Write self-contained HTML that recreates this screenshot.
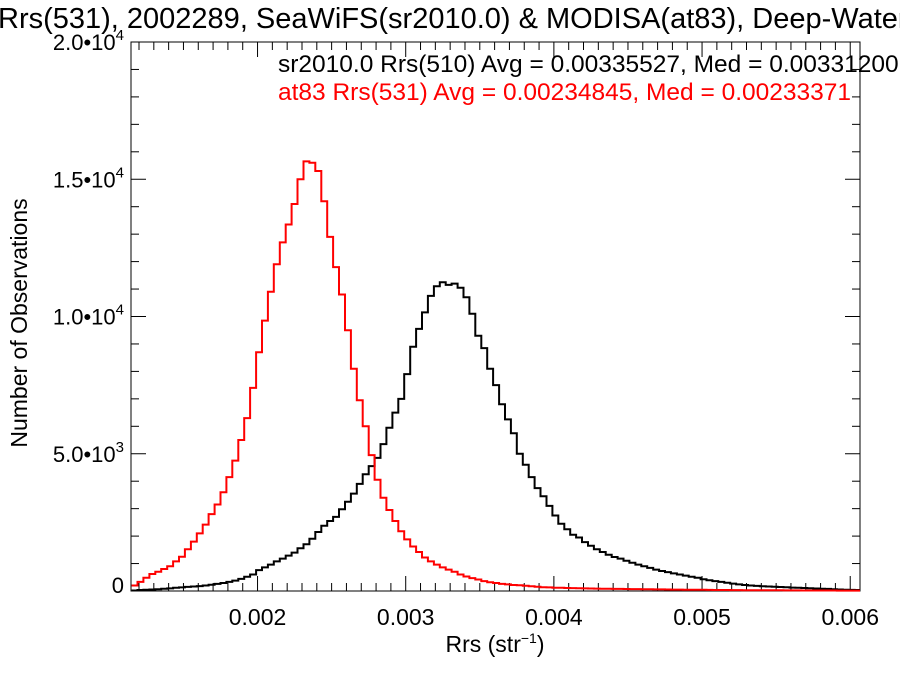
<!DOCTYPE html>
<html><head><meta charset="utf-8"><style>
body{margin:0;background:#fff;}
svg{display:block;font-family:"Liberation Sans",Arial,sans-serif;}
</style></head><body>
<svg id="chart" width="900" height="675" viewBox="0 0 900 675" xmlns="http://www.w3.org/2000/svg">
<rect width="900" height="675" fill="#fff"/>
<text x="-2" y="28" font-size="29">Rrs(531), 2002289, SeaWiFS(sr2010.0) &amp; MODISA(at83), Deep-Water</text>
<text x="278" y="72" font-size="24.5">sr2010.0 Rrs(510) Avg = 0.00335527, Med = 0.00331200</text>
<text x="278" y="100" font-size="24.5" fill="#ff0000">at83 Rrs(531) Avg = 0.00234845, Med = 0.00233371</text>
<g id="axes"></g>
<g id="series"></g>
<text x="495" y="652" font-size="23" text-anchor="middle">Rrs (str<tspan font-size="14" dy="-9">−1</tspan><tspan dy="9">)</tspan></text>
<text transform="translate(27,323) rotate(-90)" font-size="23" text-anchor="middle">Number of Observations</text>
</svg>
<script>
const binStart = 0.00115;
const binWidth = 0.00004;
const redCounts = [200,330,480,620,700,800,900,1080,1250,1520,1800,2100,2420,2800,3150,3600,4150,4750,5500,6300,7400,8700,9850,10900,11900,12700,13350,14100,15000,15650,15600,15300,14200,12900,11800,10800,9500,8100,6950,6000,4950,4050,3400,2950,2550,2180,1880,1620,1420,1220,1080,960,860,780,700,600,530,470,420,360,320,290,260,240,220,210,190,170,155,140,130,120,115,110,105,100,95,90,88,85,80,78,75,72,70,68,65,62,60,58,55,52,50,48,46,44,42,40,38,36,35,34,32,30,29,28,27,26,25,24,23,22,21,20,20,19,18,18,17,16,16,15,15];
const blackCounts = [20,35,45,55,65,80,95,115,130,150,165,180,200,230,260,290,330,380,440,520,600,760,860,960,1080,1180,1290,1400,1560,1700,1900,2150,2380,2550,2700,2980,3250,3550,3900,4250,4550,4850,5350,5950,6500,7000,7900,8900,9550,10150,10750,11100,11250,11150,11200,11050,10700,10100,9300,8850,8100,7500,6800,6250,5750,5000,4600,4150,3750,3450,3100,2750,2450,2250,2050,1950,1780,1650,1520,1420,1320,1240,1180,1100,1030,960,900,840,780,730,690,640,600,560,520,480,430,390,360,330,300,270,240,220,200,185,175,165,155,145,135,125,118,110,100,92,85,75,65,55,48,40,35];
const xTicks = [0.002,0.003,0.004,0.005,0.006];
const xTickLabels = ["0.002","0.003","0.004","0.005","0.006"];
const yTicks = [0,5000,10000,15000,20000];
const yTickMant = ["0","5.0","1.0","1.5","2.0"];
const yTickExp = ["","3","4","4","4"];

const X0=131,X1=860,Y0=591,Y1=42;
const xMin=0.001146,xMax=0.006066,yMin=0,yMax=20000;
const xs=v=>X0+(v-xMin)/(xMax-xMin)*(X1-X0);
const ys=v=>Y0-(v-yMin)/(yMax-yMin)*(Y0-Y1);
const NS="http://www.w3.org/2000/svg";
function mk(tag,attrs,parent){const e=document.createElementNS(NS,tag);for(const k in attrs)e.setAttribute(k,attrs[k]);parent.appendChild(e);return e;}
const axes=document.getElementById('axes'), series=document.getElementById('series');

const frame=mk('rect',{x:X0,y:Y1,width:X1-X0,height:Y0-Y1,fill:'none',stroke:'#000','stroke-width':1},axes);



for(let k=0;k<=60;k++){
  const v=0.001+k*0.0001; if(v<xMin-1e-9||v>xMax) continue;
  const major=(k%10===0); const x=xs(v); const L=major?15:8;
  const t=mk('line',{x1:x,y1:Y0,x2:x,y2:Y0-L,stroke:'#000','stroke-width':1},axes);
  
  
  const t2=mk('line',{x1:x,y1:Y1,x2:x,y2:Y1+L,stroke:'#000','stroke-width':1},axes);
  
  
}
xTicks.forEach((v,i)=>{
  const t=mk('text',{x:xs(v),y:625,'font-size':23,'text-anchor':'middle'},axes);
  t.textContent=xTickLabels[i];
  
  
});
for(let k=0;k<=20;k++){
  const v=k*1000; const y=ys(v); const major=(k%5===0); const L=major?15:8;
  const t=mk('line',{x1:X0,y1:y,x2:X0+L,y2:y,stroke:'#000','stroke-width':1},axes);
  
  
  const t2=mk('line',{x1:X1,y1:y,x2:X1-L,y2:y,stroke:'#000','stroke-width':1},axes);
  
  
}
yTicks.forEach((v,i)=>{
  const t=mk('text',{x:124,y:ys(v)+(i===0?2:8),'font-size':22,'text-anchor':'end'},axes);
  
  
  if(yTickExp[i]){
    t.appendChild(document.createTextNode(yTickMant[i]+"•10"));
    const s=document.createElementNS(NS,'tspan');s.setAttribute('font-size','15');s.setAttribute('dy','-10');s.textContent=yTickExp[i];t.appendChild(s);
  } else t.textContent=yTickMant[i];
});

function stepPath(arr){
  let d='';
  arr.forEach((c,i)=>{
    const xa=Math.max(xs(binStart+i*binWidth),X0), xb=Math.min(xs(binStart+(i+1)*binWidth),X1);
    if(xa>=X1) return;
    const y=ys(c);
    d+=(i===0?'M':'L')+xa.toFixed(1)+','+y.toFixed(1)+'L'+xb.toFixed(1)+','+y.toFixed(1);
  });
  return d;
}
const pb=mk('path',{d:stepPath(blackCounts),fill:'none',stroke:'#000','stroke-width':2},series);


const pr=mk('path',{d:stepPath(redCounts),fill:'none',stroke:'#ff0000','stroke-width':2},series);


</script>
</body></html>
